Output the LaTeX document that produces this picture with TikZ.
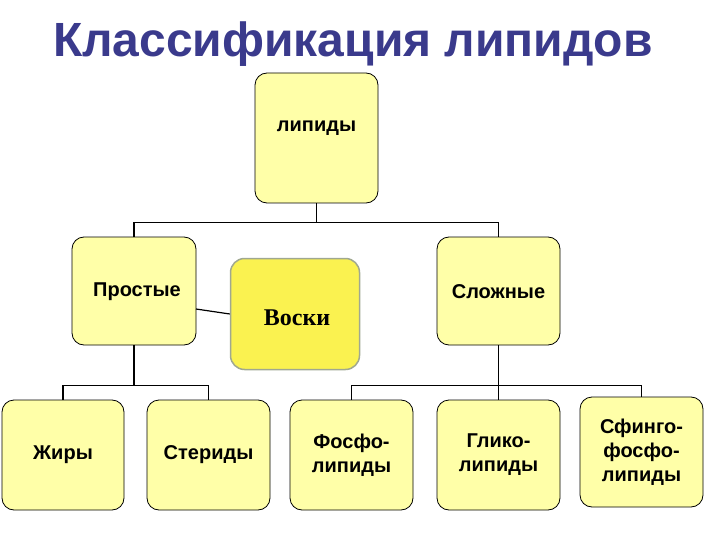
\documentclass[tikz,border=0pt]{standalone}
\usepackage{fontspec}
\setmainfont{Liberation Sans}
\begin{document}
\begin{tikzpicture}[x=1pt,y=-1pt,
 box/.style={draw=black,rounded corners=12pt,line width=0.8pt,font=\bfseries\fontsize{20}{24}\selectfont,align=center,inner sep=0pt},
 lbl/.style={font=\bfseries\fontsize{20}{24}\selectfont},
 conn/.style={line width=1.6pt}]
\definecolor{bx}{HTML}{FFFFA8}
\definecolor{tc}{HTML}{3A3A8C}
\useasboundingbox (0,0) rectangle (720,540);
\node[font=\bfseries\fontsize{48}{56}\selectfont,text=tc] (title) at (353,44) {Классификация липидов};
\tikzset{yb/.style={box,fill=bx}}
\node[yb,minimum width=123,minimum height=130] (lip) at (316.5,138) {};
\node[lbl] (lipt) at (316.5,128) {липиды};
\node[yb,minimum width=124,minimum height=108] (pr) at (134,291) {};
\node[lbl] (prt) at (137,292) {Простые};
\node[yb,minimum width=123,minimum height=108] (sl) at (498.5,291) {};
\node[lbl] (slt) at (498.5,292) {Сложные};
\node[draw={rgb,255:red,160;green,168;blue,144},line width=1.5pt,fill={rgb,255:red,250;green,242;blue,80},rounded corners=14pt,minimum width=129,minimum height=111] (vo) at (295,314) {};
\node[font=\bfseries\fontsize{24}{28}\selectfont\fontspec{Liberation Serif}] (vot) at (297,318) {Воски};
\node[yb,minimum width=122,minimum height=110] (zh) at (63,455) {Жиры};
\node[yb,minimum width=123,minimum height=110] (st) at (208.5,455) {Стериды};
\node[yb,minimum width=123,minimum height=110] (fo) at (351.5,455) {Фосфо-\\липиды};
\node[yb,minimum width=123,minimum height=110] (gl) at (498.5,455) {Глико-\\липиды};
\node[yb,minimum width=123,minimum height=110] (sf) at (641.5,452) {Сфинго-\\фосфо-\\липиды};
\draw[conn] (lip.south) -- ++(0,19) -| (pr.north);
\draw[conn] (lip.south) ++(0,19) -| (sl.north);
\draw[conn] (pr.south) -- ++(0,40) -| (zh.north);
\draw[conn] (pr.south) ++(0,40) -| (st.north);
\draw[conn] (sl.south) -- ++(0,40) -| (fo.north);
\draw[conn] (sl.south) ++(0,40) -| (sf.north);
\draw[conn] (sl.south) -- (gl.north);
\draw[line width=1.2pt] (196,309) -- (vo.west);
\end{tikzpicture}
\end{document}
